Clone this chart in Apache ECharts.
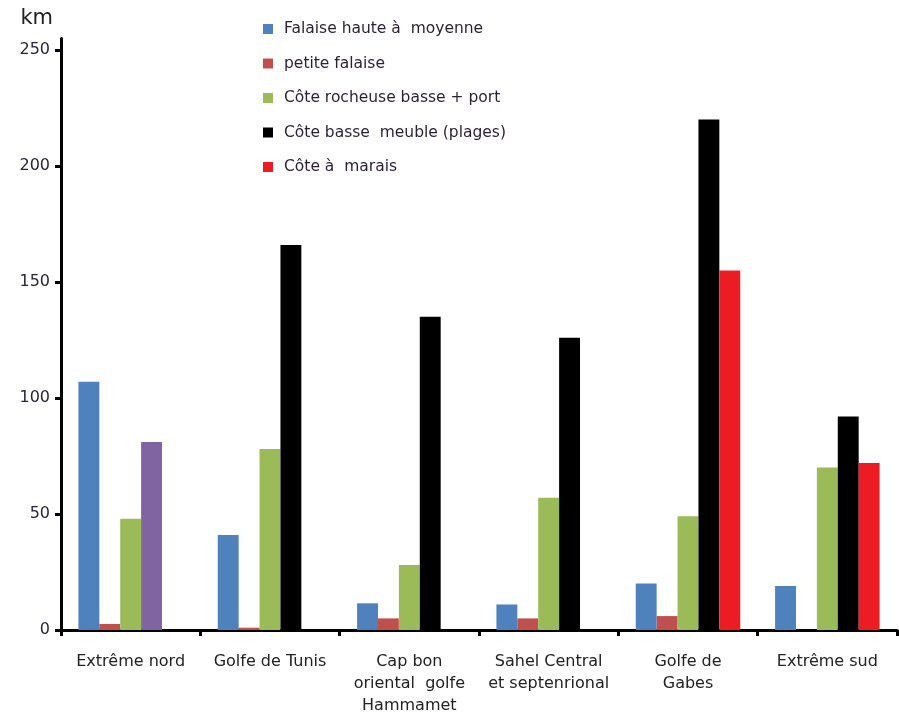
<!DOCTYPE html>
<html><head><meta charset="utf-8">
<script src="https://cdn.jsdelivr.net/npm/echarts@6/dist/echarts.min.js"></script>
<style>html,body{margin:0;padding:0;background:#fff;overflow:hidden}#c{width:899px;height:714px}</style>
</head><body><div id="c"></div>
<script>
const categories = ["Extrême nord", "Golfe de Tunis", "Cap bon\noriental  golfe\nHammamet", "Sahel Central\net septenrional", "Golfe de\nGabes", "Extrême sud"];
const seriesNames = ["Falaise haute à  moyenne", "petite falaise", "Côte rocheuse basse + port", "Côte basse  meuble (plages)", "Côte à  marais"];
const falaiseHaute = [107, 41, 11.5, 11, 20, 19];
const petiteFalaise = [2.6, 1, 5, 5, 6, null];
const coteRocheuse = [48, 78, 28, 57, 49, 70];
const coteBasse = [81, 166, 135, 126, 220, 92];
const coteMarais = [null, null, null, null, 155, 72];
const yTicks = [0, 50, 100, 150, 200, 250];
const colors = ["#4F81BD", "#C0504D", "#9BBB59", "#000000", "#ED1C24"];
const purple = "#8064A2";

const values = [falaiseHaute, petiteFalaise, coteRocheuse, coteBasse, coteMarais];
const series = seriesNames.map((n, i) => ({
  name: n, type: 'bar', barGap: 0, barCategoryGap: '25%',
  itemStyle: { color: colors[i] },
  data: values[i].map((v, j) => (i === 3 && j === 0) ? { value: v, itemStyle: { color: purple } } : v)
}));

const FONT = 'DejaVu Sans';
const chart = echarts.init(document.getElementById('c'));
chart.setOption({
  animation: false,
  textStyle: { fontFamily: FONT },
  grid: { left: 61, right: 2, top: 38.4, bottom: 84, containLabel: false, outerBoundsMode: 'none' },
  legend: {
    orient: 'vertical', left: 258, top: 14, itemWidth: 10, itemHeight: 10, itemGap: 14.5,
    icon: 'rect',
    textStyle: { fontSize: 15.5, lineHeight: 20, color: '#2a1f33', fontFamily: FONT, padding: [0, 0, 0, 6] },
    data: seriesNames
  },
  xAxis: {
    type: 'category', data: categories,
    axisLine: { lineStyle: { color: '#000', width: 3 } },
    axisTick: { show: true, length: 6, lineStyle: { color: '#000', width: 3 } },
    axisLabel: { fontSize: 16, color: '#222', margin: 21, lineHeight: 22, interval: 0, fontFamily: FONT }
  },
  yAxis: {
    type: 'value', min: 0, max: 255, interval: 50,
    name: 'km', nameLocation: 'end', nameGap: 9,
    nameTextStyle: { fontSize: 21, color: '#222', align: 'right', padding: [0, 8, 0, 0], fontFamily: FONT },
    splitLine: { show: false },
    axisLine: { show: true, lineStyle: { color: '#000', width: 3 } },
    axisTick: { show: true, length: 6, lineStyle: { color: '#000', width: 3 }, customValues: yTicks },
    axisLabel: { fontSize: 16, color: '#2a2440', margin: 11, fontFamily: FONT, customValues: yTicks }
  },
  series: series
});
</script></body></html>
